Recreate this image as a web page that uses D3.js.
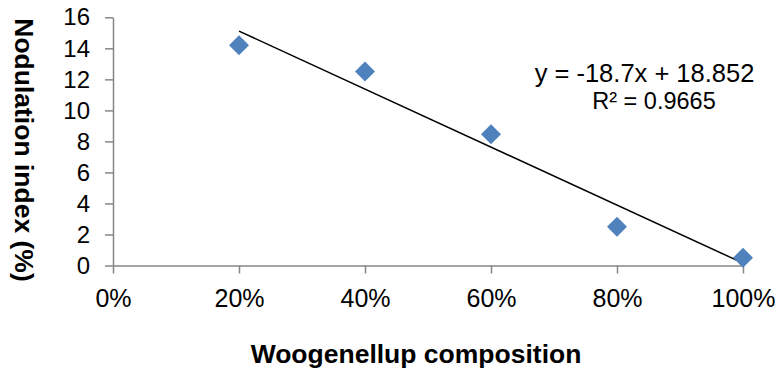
<!DOCTYPE html>
<html>
<head>
<meta charset="utf-8">
<script src="https://cdn.jsdelivr.net/npm/d3@7"></script>
<style>
  body { margin: 0; background: #fff; }
  svg { display: block; font-family: "Liberation Sans", Arial, sans-serif; }
</style>
</head>
<body>
<script>
// data //
const composition = [0.2, 0.4, 0.6, 0.8, 1.0];
const nodulation = [14.2, 12.5, 8.46, 2.5, 0.5];
const xTicks = [0, 0.2, 0.4, 0.6, 0.8, 1.0];
const yTicks = [0, 2, 4, 6, 8, 10, 12, 14, 16];
const equationText = "y = -18.7x + 18.852";
const r2Text = "R² = 0.9665";

const width = 779, height = 374;
const margin = { top: 17.3, right: 36, bottom: 108.5, left: 113 };

const svg = d3.select('body').append('svg')
  .attr('width', width)
  .attr('height', height);

const g = svg.append('g')
  .attr('transform', 'translate(' + margin.left + ',' + margin.top + ')');

const w = width - margin.left - margin.right;
const h = height - margin.top - margin.bottom;

let x = d3.scaleLinear().domain([0, 1]).range([0, w]);
let y = d3.scaleLinear().domain([0, 16]).range([h, 0]);

// y axis //
const yAxis = g.append('g')
  .call(d3.axisLeft(y).tickValues(yTicks).tickSize(8).tickPadding(15).tickSizeOuter(0));
yAxis.selectAll('text').attr('font-size', 24).attr('fill', '#000').attr('font-family', 'Liberation Sans');
yAxis.selectAll('line, path').attr('stroke', '#868686').attr('stroke-width', 1.5);

// x axis //
const xAxis = g.append('g')
  .attr('transform', 'translate(0,' + h + ')')
  .call(d3.axisBottom(x).tickValues(xTicks).tickFormat(d3.format('.0%')).tickSize(8).tickPadding(16).tickSizeOuter(0));
xAxis.selectAll('text').attr('font-size', 25).attr('fill', '#000').attr('font-family', 'Liberation Sans');
xAxis.selectAll('line, path').attr('stroke', '#868686').attr('stroke-width', 1.5);

// linear trend from the points //
const mx = d3.mean(composition), my = d3.mean(nodulation);
const slope = d3.sum(composition, (c, i) => (c - mx) * (nodulation[i] - my)) /
              d3.sum(composition, c => (c - mx) * (c - mx));
const intercept = my - slope * mx;
const ext = d3.extent(composition);

g.append('path')
  .datum(ext)
  .attr('fill', 'none')
  .attr('stroke', '#000')
  .attr('stroke-width', 1.5)
  .attr('d', d3.line().x(d => x(d)).y(d => y(slope * d + intercept)));

// points //
const diamond = d3.symbol().type(d3.symbolSquare).size(200);
g.selectAll('.pt')
  .data(composition)
  .enter().append('path')
  .attr('class', 'pt')
  .attr('d', diamond)
  .attr('fill', '#4F81BD')
  .attr('transform', (d, i) => 'translate(' + x(d) + ',' + y(nodulation[i]) + ') rotate(45)');

// equation label //
svg.append('text')
  .attr('x', 644.5).attr('y', 81.5)
  .attr('text-anchor', 'middle')
  .attr('font-size', 25.5)
  .text(equationText);
svg.append('text')
  .attr('x', 654).attr('y', 109)
  .attr('text-anchor', 'middle')
  .attr('font-size', 23.5)
  .text(r2Text);

// axis titles //
svg.append('text')
  .attr('x', 416)
  .attr('y', 363)
  .attr('text-anchor', 'middle')
  .attr('font-size', 26.5)
  .attr('font-weight', 'bold')
  .text('Woogenellup composition');

svg.append('text')
  .attr('transform', 'translate(15,150) rotate(90)')
  .attr('text-anchor', 'middle')
  .attr('font-size', 26.5)
  .attr('font-weight', 'bold')
  .text('Nodulation index (%)');
</script>
</body>
</html>
